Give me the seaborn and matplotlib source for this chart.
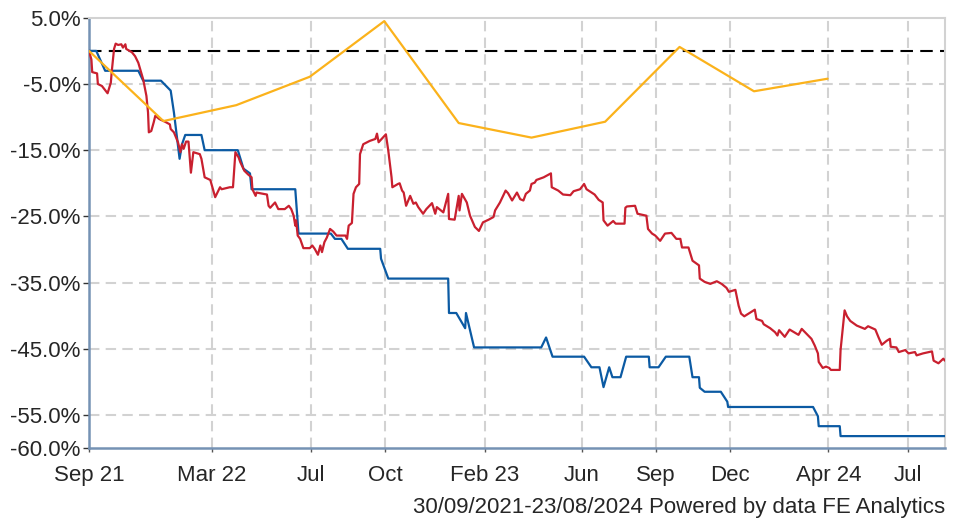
import pandas as pd
import seaborn as sns
import matplotlib.pyplot as plt
from matplotlib.ticker import FuncFormatter

# dados (dias desde 30/09/2021, retorno acumulado em %)
start = pd.Timestamp("2021-09-30")
end = pd.Timestamp("2024-08-23")

red_days = [0, 3, 4, 10, 11, 16, 23, 27, 28, 31,
            33, 36, 40, 42, 45, 46, 53, 57, 61, 67,
            71, 73, 74, 77, 80, 82, 87, 94, 100, 101,
            105, 110, 113, 115, 117, 120, 123, 126, 129, 137,
            139, 143, 150, 156, 162, 164, 174, 178, 181, 185,
            187, 192, 197, 201, 202, 206, 207, 220, 222, 224,
            230, 234, 242, 247, 250, 253, 255, 256, 258, 261,
            265, 273, 276, 279, 283, 286, 288, 291, 294, 298,
            302, 306, 317, 319, 321, 325, 327, 330, 334, 335,
            339, 347, 354, 356, 358, 367, 370, 374, 375, 382,
            384, 387, 389, 392, 397, 401, 404, 407, 413, 417,
            424, 428, 430, 438, 444, 445, 452, 457, 458, 461,
            467, 471, 477, 482, 487, 494, 500, 502, 508, 515,
            518, 523, 529, 533, 537, 540, 545, 547, 551, 553,
            562, 571, 572, 580, 586, 595, 599, 607, 612, 615,
            625, 630, 635, 636, 641, 648, 651, 662, 663, 665,
            675, 678, 689, 691, 696, 700, 706, 712, 720, 726,
            731, 733, 741, 746, 754, 755, 761, 768, 776, 782,
            788, 791, 799, 803, 806, 810, 823, 825, 832, 834,
            842, 848, 851, 853, 860, 866, 877, 881, 885, 893,
            897, 901, 902, 907, 911, 915, 917, 928, 929, 934,
            937, 941, 949, 959, 963, 972, 976, 980, 986, 990,
            991, 998, 1001, 1009, 1013, 1021, 1023, 1031, 1042, 1044,
            1050, 1056, 1058]
red_vals = [0, -1.3, -3.2, -3.4, -5.0, -5.3, -6.4, -4.8, -3.3, 0.3,
            1.1, 0.9, 1.0, 0.5, 1.0, 0.3, -0.2, -0.8, -1.8, -4.3,
            -6.8, -9.3, -12.3, -12.1, -10.8, -9.8, -10.3, -10.7, -11.1, -11.8,
            -12.3, -13.8, -15.3, -14.1, -14.8, -13.7, -13.7, -18.4, -15.3, -15.6,
            -16.3, -19.1, -19.5, -22.1, -20.6, -20.9, -20.6, -20.6, -15.3, -16.1,
            -16.8, -18.1, -18.7, -19.1, -20.9, -21.9, -21.4, -21.7, -23.4, -23.7,
            -22.9, -23.9, -23.9, -23.4, -23.9, -24.9, -26.4, -25.6, -27.9, -28.4,
            -29.8, -29.8, -29.4, -29.9, -30.8, -29.4, -30.4, -28.9, -28.2, -26.9,
            -27.3, -27.9, -27.9, -28.4, -26.4, -26.0, -21.6, -20.6, -20.1, -15.6,
            -14.1, -13.6, -13.3, -12.5, -13.8, -12.6, -15.1, -19.1, -20.6, -20.1,
            -20.0, -21.1, -21.4, -23.4, -21.9, -23.1, -22.9, -23.6, -24.6, -23.9,
            -23.0, -24.6, -23.6, -24.4, -21.6, -25.4, -25.5, -21.9, -24.1, -21.6,
            -22.9, -24.9, -26.6, -27.2, -25.9, -25.5, -25.1, -24.1, -22.9, -21.1,
            -21.5, -22.6, -21.4, -22.4, -22.6, -21.6, -21.1, -20.1, -19.9, -19.5,
            -19.1, -18.5, -20.6, -21.1, -21.7, -21.8, -21.2, -20.9, -20.1, -20.9,
            -21.7, -22.5, -22.9, -25.6, -26.4, -25.7, -26.1, -26.1, -23.7, -23.5,
            -23.4, -24.6, -24.9, -26.9, -27.6, -27.9, -28.7, -27.6, -27.5, -28.4,
            -28.4, -29.7, -29.7, -31.7, -32.4, -34.4, -34.9, -35.2, -34.8, -35.2,
            -35.8, -36.4, -36.1, -38.5, -39.7, -40.1, -39.1, -40.5, -40.8, -41.3,
            -41.9, -42.5, -43.0, -42.2, -43.2, -42.1, -42.9, -42.0, -42.5, -43.5,
            -44.5, -45.7, -47.0, -47.9, -47.7, -47.9, -48.2, -48.2, -45.2, -39.2,
            -40.1, -40.8, -41.5, -42.0, -41.6, -42.1, -43.3, -44.4, -43.8, -43.5,
            -44.7, -44.8, -45.5, -45.2, -45.7, -45.5, -46.0, -45.7, -45.4, -46.8,
            -47.2, -46.5, -46.8]

blue_days = [0, 9, 20, 61, 67, 89, 101, 105, 112, 115,
             119, 139, 143, 184, 191, 199, 201, 255, 259, 299,
             304, 312, 320, 360, 361, 370, 444, 445, 454, 465,
             466, 476, 559, 565, 573, 612, 621, 631, 636, 643,
             647, 657, 664, 692, 693, 704, 713, 742, 746, 754,
             755, 761, 781, 789, 790, 895, 901, 902, 928, 929,
             1058]
blue_vals = [0, 0, -3.0, -3.0, -4.5, -4.5, -6.0, -9.3, -16.3, -14.1,
             -12.7, -12.7, -15.0, -15.0, -17.8, -18.5, -20.9, -20.9, -27.6, -27.6,
             -28.4, -28.4, -29.9, -29.9, -31.4, -34.4, -34.4, -39.6, -39.6, -41.9,
             -39.6, -44.8, -44.8, -43.3, -46.2, -46.2, -47.8, -47.8, -50.8, -47.8,
             -49.3, -49.3, -46.2, -46.2, -47.8, -47.8, -46.2, -46.2, -49.3, -49.3,
             -50.9, -51.5, -51.5, -53.0, -53.8, -53.8, -55.2, -56.7, -56.7, -58.2,
             -58.2]

yellow_dates = ["2021-09-30", "2021-12-31", "2022-03-31", "2022-06-30",
                "2022-09-30", "2022-12-31", "2023-03-31", "2023-06-30",
                "2023-09-30", "2023-12-31", "2024-03-31"]
yellow_vals = [0, -10.6, -8.2, -3.9, 4.5, -10.9, -13.1, -10.7, 0.6, -6.1, -4.2]

tick_dates = ["2021-09-30", "2022-03-01", "2022-07-01", "2022-10-01", "2023-02-01",
              "2023-06-01", "2023-09-01", "2023-12-01", "2024-04-01", "2024-07-08"]
tick_labels = ["Sep 21", "Mar 22", "Jul", "Oct", "Feb 23",
               "Jun", "Sep", "Dec", "Apr 24", "Jul"]
y_ticks = [5, -5, -15, -25, -35, -45, -55, -60]

red_df = pd.DataFrame({"date": start + pd.to_timedelta(red_days, unit="D"), "ret": red_vals})
blue_df = pd.DataFrame({"date": start + pd.to_timedelta(blue_days, unit="D"), "ret": blue_vals})
yellow_df = pd.DataFrame({"date": pd.to_datetime(yellow_dates), "ret": yellow_vals})

sns.set_style("white")
plt.rcParams["font.family"] = ["Liberation Sans", "DejaVu Sans"]

fig = plt.figure(figsize=(9.65, 5.24), dpi=100)
ax = fig.add_axes([0.0922, 0.145, 0.887, 0.821])

grid_kw = dict(color="#d2d2d2", lw=1.5, linestyle=(0, (5, 3)), zorder=0)
for t in y_ticks[1:-1]:
    ax.axhline(t, **grid_kw)
for t in tick_dates[1:]:
    ax.axvline(pd.Timestamp(t), **grid_kw)

# linha do zero
ax.axhline(0, color="black", lw=1.5, linestyle=(0, (6, 3.5)), zorder=1)

line_kw = dict(x="date", y="ret", estimator=None, sort=False, lw=1.6, ax=ax)
sns.lineplot(data=blue_df, color="#0b5aa3", zorder=3, **line_kw)
sns.lineplot(data=red_df, color="#c9202f", zorder=4, **line_kw)
sns.lineplot(data=yellow_df, color="#fbb21b", zorder=5, **line_kw)

ax.set_xlim(start, end)
ax.set_ylim(-60, 5)
ax.set_yticks(y_ticks)
ax.yaxis.set_major_formatter(FuncFormatter(lambda v, p: f"{v:.1f}%"))
ax.set_xticks(pd.to_datetime(tick_dates))
ax.set_xticklabels(tick_labels)
ax.set_xlabel("")
ax.set_ylabel("")

ax.tick_params(axis="y", left=True, length=4, width=1, color="#333333", pad=2, labelsize=16)
ax.tick_params(axis="x", bottom=True, length=3, width=1, color="#555555", pad=9, labelsize=16)

for side in ["left", "bottom"]:
    ax.spines[side].set_color("#7592b4")
    ax.spines[side].set_linewidth(1.8)
for side in ["top", "right"]:
    ax.spines[side].set_color("#d2d2d2")
    ax.spines[side].set_linewidth(1.5)

fig.text(0.979, 0.031, "30/09/2021-23/08/2024 Powered by data FE Analytics",
         ha="right", va="center", fontsize=16)

fig.savefig("out.png", dpi=100)
